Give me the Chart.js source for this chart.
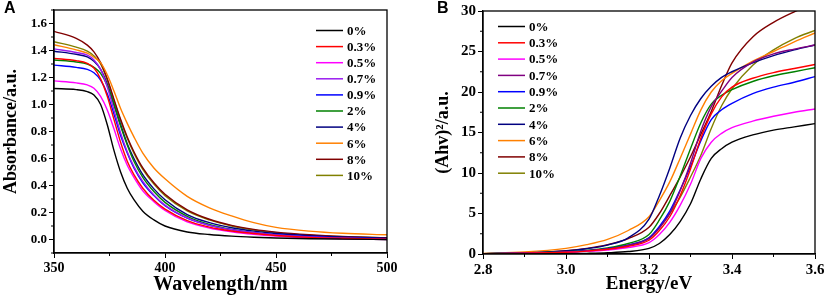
<!DOCTYPE html>
<html>
<head>
<meta charset="utf-8">
<script src="https://cdn.jsdelivr.net/npm/chart.js@4"></script>
<style>
  body { margin: 0; background: #fff; }
  canvas { position: absolute; top: 0; }
  #chartA { left: 0; }
  #chartB { left: 414px; }
  .tag { position: absolute; top: -1px; font: bold 16px 'Liberation Sans', Arial, sans-serif; }
</style>
</head>
<body>
<canvas id="chartA" width="414" height="301"></canvas>
<canvas id="chartB" width="415" height="301"></canvas>
<div class="tag" style="left:4px">A</div>
<div class="tag" style="left:437px">B</div>
<script>
const seriesNames = ['0%', '0.3%', '0.5%', '0.7%', '0.9%', '2%', '4%', '6%', '8%', '10%'];

// panel A: absorbance vs wavelength
const wavelength = [350, 360, 365, 368, 371, 374, 377, 380, 383, 386, 390, 395, 400, 410, 420, 430, 440, 450, 465, 480, 500];
const absA_0   = [1.118, 1.11, 1.095, 1.07, 1.0, 0.85, 0.66, 0.5, 0.38, 0.295, 0.21, 0.145, 0.1, 0.056, 0.037, 0.025, 0.017, 0.011, 0.006, 0.003, 0.0];
const absA_03  = [1.342, 1.325, 1.305, 1.27, 1.19, 1.06, 0.89, 0.72, 0.58, 0.48, 0.38, 0.29, 0.225, 0.14, 0.092, 0.063, 0.044, 0.03, 0.016, 0.009, 0.003];
const absA_05  = [1.175, 1.16, 1.145, 1.12, 1.06, 0.96, 0.82, 0.67, 0.55, 0.46, 0.36, 0.28, 0.215, 0.13, 0.085, 0.057, 0.038, 0.025, 0.012, 0.005, 0.0];
const absA_07  = [1.412, 1.385, 1.365, 1.33, 1.26, 1.13, 0.96, 0.79, 0.65, 0.54, 0.43, 0.33, 0.255, 0.16, 0.105, 0.072, 0.05, 0.034, 0.019, 0.01, 0.003];
const absA_09  = [1.292, 1.275, 1.26, 1.235, 1.18, 1.08, 0.93, 0.77, 0.64, 0.53, 0.42, 0.325, 0.25, 0.158, 0.105, 0.072, 0.05, 0.035, 0.02, 0.012, 0.005];
const absA_2   = [1.33, 1.315, 1.30, 1.275, 1.23, 1.14, 1.0, 0.84, 0.70, 0.58, 0.46, 0.355, 0.275, 0.172, 0.112, 0.075, 0.05, 0.033, 0.016, 0.007, 0.0];
const absA_4   = [1.395, 1.372, 1.352, 1.32, 1.26, 1.15, 1.0, 0.85, 0.71, 0.60, 0.48, 0.375, 0.295, 0.185, 0.125, 0.087, 0.062, 0.044, 0.028, 0.018, 0.01];
const absA_6   = [1.443, 1.405, 1.38, 1.35, 1.31, 1.22, 1.10, 0.97, 0.86, 0.76, 0.64, 0.53, 0.45, 0.32, 0.235, 0.175, 0.125, 0.09, 0.062, 0.046, 0.035];
const absA_8   = [1.542, 1.49, 1.44, 1.39, 1.31, 1.19, 1.04, 0.89, 0.76, 0.65, 0.53, 0.42, 0.335, 0.22, 0.15, 0.105, 0.075, 0.055, 0.035, 0.022, 0.013];
const absA_10  = [1.465, 1.425, 1.395, 1.36, 1.30, 1.18, 1.03, 0.88, 0.75, 0.64, 0.52, 0.41, 0.325, 0.212, 0.145, 0.1, 0.07, 0.05, 0.031, 0.02, 0.012];
const xTicksA = [350, 400, 450, 500];
const yTicksA = [0.0, 0.2, 0.4, 0.6, 0.8, 1.0, 1.2, 1.4, 1.6];

// panel B: (Ahv)^2 vs energy
const energy = [2.8, 2.9, 3.0, 3.05, 3.1, 3.15, 3.2, 3.225, 3.25, 3.275, 3.3, 3.325, 3.35, 3.375, 3.4, 3.45, 3.5, 3.55, 3.6];
const tauB_0   = [0, 0.01, 0.04, 0.08, 0.15, 0.3, 0.7, 1.3, 2.4, 4.0, 6.2, 9.3, 11.8, 13.0, 13.8, 14.7, 15.3, 15.7, 16.1];
const tauB_03  = [0.03, 0.09, 0.22, 0.36, 0.58, 0.95, 1.7, 2.9, 4.6, 7.2, 10.5, 14.3, 17.3, 19.4, 20.6, 21.7, 22.4, 22.9, 23.4];
const tauB_05  = [0.03, 0.08, 0.2, 0.32, 0.5, 0.8, 1.4, 2.4, 3.9, 6.0, 8.6, 11.8, 13.8, 14.9, 15.6, 16.4, 17.0, 17.5, 17.9];
const tauB_07  = [0.03, 0.09, 0.23, 0.38, 0.62, 1.05, 1.9, 3.2, 5.0, 7.8, 11.2, 15.2, 18.2, 20.1, 21.8, 23.7, 24.7, 25.3, 25.8];
const tauB_09  = [0.04, 0.1, 0.25, 0.4, 0.65, 1.1, 2.0, 3.4, 5.3, 7.9, 10.8, 14.0, 16.6, 17.8, 18.6, 19.8, 20.6, 21.2, 21.9];
const tauB_2   = [0.04, 0.11, 0.28, 0.45, 0.75, 1.3, 2.4, 4.2, 6.5, 9.6, 13.0, 16.2, 18.5, 19.6, 20.3, 21.3, 22.0, 22.5, 23.0];
const tauB_4   = [0.05, 0.14, 0.38, 0.65, 1.1, 2.0, 4.3, 7.2, 10.6, 14.3, 17.1, 19.2, 20.7, 21.8, 22.5, 23.6, 24.5, 25.2, 25.8];
const tauB_6   = [0.08, 0.25, 0.7, 1.15, 1.8, 2.9, 4.6, 6.6, 8.9, 11.8, 14.8, 17.8, 20.0, 21.4, 22.3, 23.8, 25.0, 26.2, 27.3];
const tauB_8   = [0.05, 0.15, 0.42, 0.7, 1.15, 1.9, 3.3, 5.0, 7.2, 9.5, 12.0, 14.8, 17.6, 20.8, 23.6, 26.8, 28.6, 29.9, 31.0];
const tauB_10  = [0.04, 0.1, 0.25, 0.4, 0.65, 1.1, 2.0, 3.3, 5.0, 7.0, 9.5, 12.2, 15.5, 18.3, 20.4, 23.3, 25.2, 26.6, 27.6];
const xTicksB = [2.8, 3.0, 3.2, 3.4, 3.6];
const yTicksB = [0, 5, 10, 15, 20, 25, 30];

const colorsA = ['#000000', '#ff0000', '#ff00ff', '#9a1cf0', '#0000ff', '#008000', '#000080', '#ff8000', '#800000', '#808000'];
const colorsB = ['#000000', '#ff0000', '#ff00ff', '#800080', '#0000ff', '#008000', '#000080', '#ff8000', '#800000', '#808000'];

const serif = "'Liberation Serif', 'Times New Roman', serif";

const toPoints = (xs, ys) => ys.map((y, i) => ({ x: xs[i], y: y }));

const makeDatasets = (xs, list, colors) => list.map((ys, i) => ({
  label: seriesNames[i],
  data: toPoints(xs, ys),
  borderColor: colors[i],
  borderWidth: 1.4,
  pointRadius: 0,
  cubicInterpolationMode: 'monotone',
  fill: false
}));

// frame, minor ticks and in-plot legend
const decorPlugin = {
  id: 'decor',
  afterDraw(chart, args, opts) {
    const ctx = chart.ctx;
    const area = chart.chartArea;
    const xs = chart.scales.x;
    const ys = chart.scales.y;
    ctx.save();
    ctx.strokeStyle = '#000';
    ctx.lineWidth = 1.3;
    ctx.strokeRect(area.left, area.top, area.right - area.left, area.bottom - area.top);
    ctx.lineWidth = 1;
    opts.minorX.forEach(v => {
      const px = xs.getPixelForValue(v);
      ctx.beginPath();
      ctx.moveTo(px, area.bottom);
      ctx.lineTo(px, area.bottom + 3);
      ctx.stroke();
    });
    opts.minorY.forEach(v => {
      const py = ys.getPixelForValue(v);
      ctx.beginPath();
      ctx.moveTo(area.left, py);
      ctx.lineTo(area.left - 3, py);
      ctx.stroke();
    });
    ctx.font = 'bold 13px ' + serif;
    ctx.textBaseline = 'middle';
    ctx.textAlign = 'left';
    chart.data.datasets.forEach((ds, i) => {
      const y = opts.top + i * opts.step;
      ctx.strokeStyle = ds.borderColor;
      ctx.lineWidth = 1.5;
      ctx.beginPath();
      ctx.moveTo(opts.left, y);
      ctx.lineTo(opts.left + 27, y);
      ctx.stroke();
      ctx.fillStyle = '#000';
      ctx.fillText(ds.label, opts.left + 31, y + 1);
    });
    ctx.restore();
  }
};

const axisOptions = (min, max, tickList, decimals, width, title, titleSize, titlePad, tickSize) => ({
  type: 'linear',
  min: min,
  max: max,
  afterBuildTicks: (scale) => { scale.ticks = tickList.map(v => ({ value: v })); },
  ticks: {
    color: '#000',
    font: { family: serif, weight: 'bold', size: tickSize },
    padding: 2,
    maxRotation: 0,
    autoSkip: false,
    callback: (v) => Number(v).toFixed(decimals)
  },
  grid: { drawOnChartArea: false, drawTicks: true, tickLength: 5, tickColor: '#000', tickWidth: 1 },
  border: { display: true, color: '#000', width: 1.3 },
  title: { display: true, text: title, color: '#000', font: { family: serif, weight: 'bold', size: titleSize }, padding: titlePad },
  afterFit: (scale) => {
    if (scale.isHorizontal()) scale.height = width; else scale.width = width;
  }
});

new Chart(document.getElementById('chartA'), {
  type: 'line',
  data: {
    datasets: makeDatasets(wavelength, [absA_0, absA_03, absA_05, absA_07, absA_09, absA_2, absA_4, absA_6, absA_8, absA_10], colorsA)
  },
  options: {
    responsive: false,
    animation: false,
    devicePixelRatio: 1,
    layout: { padding: { left: 0, right: 27, top: 10, bottom: 0 } },
    plugins: {
      legend: { display: false },
      tooltip: { enabled: false },
      decor: { minorX: [375, 425, 475], minorY: [-0.1, 0.1, 0.3, 0.5, 0.7, 0.9, 1.1, 1.3, 1.5, 1.7], left: 316, top: 30.5, step: 16.1 }
    },
    scales: {
      x: axisOptions(350, 500, xTicksA, 0, 48, 'Wavelength/nm', 20, { top: 0, bottom: 4 }, 14),
      y: axisOptions(-0.1, 1.7, yTicksA, 1, 54, 'Absorbance/a.u.', 18, { top: 1, bottom: 0 }, 13)
    }
  },
  plugins: [decorPlugin]
});

new Chart(document.getElementById('chartB'), {
  type: 'line',
  data: {
    datasets: makeDatasets(energy, [tauB_0, tauB_03, tauB_05, tauB_07, tauB_09, tauB_2, tauB_4, tauB_6, tauB_8, tauB_10], colorsB)
  },
  options: {
    responsive: false,
    animation: false,
    devicePixelRatio: 1,
    layout: { padding: { left: 0, right: 14, top: 10, bottom: 0 } },
    plugins: {
      legend: { display: false },
      tooltip: { enabled: false },
      decor: { minorX: [2.9, 3.1, 3.3, 3.5], minorY: [2.5, 7.5, 12.5, 17.5, 22.5, 27.5], left: 84, top: 26.5, step: 16.3 }
    },
    scales: {
      x: axisOptions(2.8, 3.6, xTicksB, 1, 47, 'Energy/eV', 19, { top: 0, bottom: 6 }, 15),
      y: axisOptions(0, 30, yTicksB, 0, 69, '(Ahv)²/a.u.', 18, { top: 19, bottom: 0 }, 15)
    }
  },
  plugins: [decorPlugin]
});
</script>
</body>
</html>
